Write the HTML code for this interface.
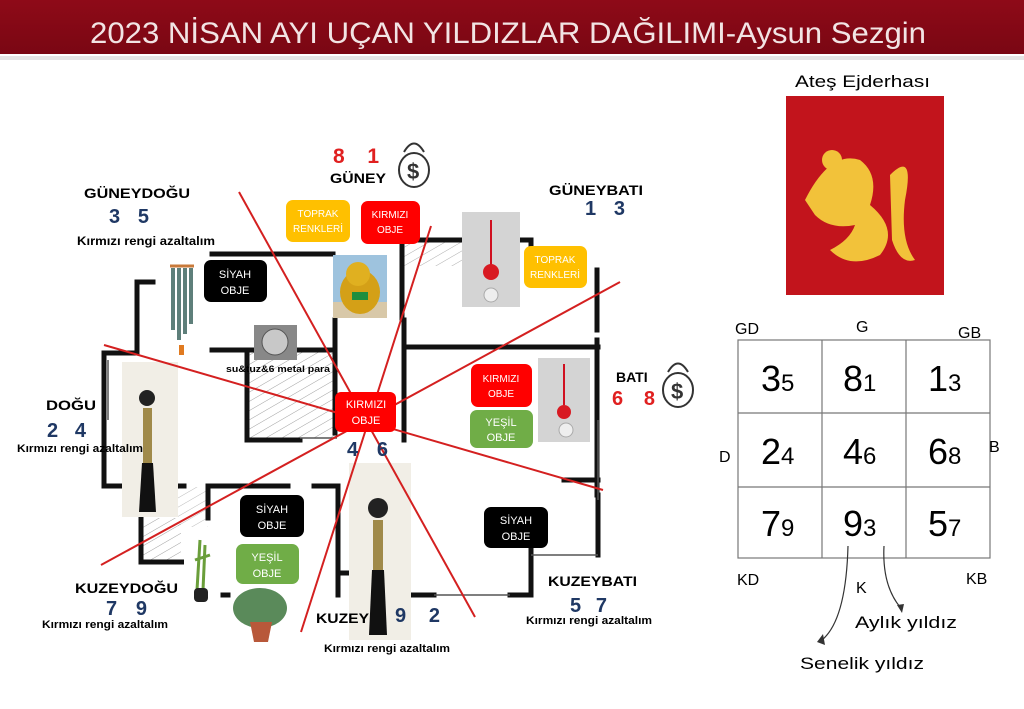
<!DOCTYPE html>
<html><head><meta charset="utf-8"><style>
html,body{margin:0;padding:0;background:#fff;}
svg{display:block;font-family:"Liberation Sans",sans-serif;}
</style></head><body>
<svg width="1024" height="709" viewBox="0 0 1024 709" xmlns="http://www.w3.org/2000/svg">
<defs>
<linearGradient id="hdr" x1="0" y1="0" x2="0" y2="1"><stop offset="0" stop-color="#8e0a18"/><stop offset="1" stop-color="#7a0713"/></linearGradient>
<pattern id="hatch" width="8" height="8" patternUnits="userSpaceOnUse" patternTransform="rotate(60)"><line x1="0" y1="0" x2="0" y2="8" stroke="#777" stroke-width="1"/></pattern>
</defs>
<rect x="0" y="0" width="1024" height="709" fill="#fff"/>
<rect x="0" y="56" width="1024" height="4" fill="#ccc" opacity="0.5"/>
<rect x="0" y="0" width="1024" height="54" fill="url(#hdr)"/>
<text x="90" y="43" font-size="30" fill="#f2e4e4" textLength="836" lengthAdjust="spacingAndGlyphs">2023 NİSAN AYI UÇAN YILDIZLAR DAĞILIMI-Aysun  Sezgin</text>

<rect x="245" y="352" width="92" height="86" fill="url(#hatch)" opacity="0.7"/>
<rect x="404" y="240" width="60" height="26" fill="url(#hatch)" opacity="0.6"/>
<rect x="143" y="518" width="38" height="44" fill="url(#hatch)" opacity="0.7"/>
<rect x="178" y="487" width="30" height="40" fill="url(#hatch)" opacity="0.5"/>

<g stroke="#111" stroke-width="5" fill="none" stroke-linecap="square">
<path d="M212 254 H333"/>
<path d="M402 240 H465 M520 240 H531 V252"/>
<path d="M402 240 V318"/>
<path d="M153 282 H137 V353 H104 V486 H121"/>
<path d="M212 350 H333"/>
<path d="M335 320 V433"/>
<path d="M404 320 V440"/>
<path d="M406 347 H598"/>
<path d="M597 270 V330 M597 340 V495 M564 480 H598"/>
<path d="M247 350 V440 H300"/>
<path d="M178 486 H184 M208 518 V486 H288 M314 486 H338 V595 M338 573 H347"/>
<path d="M141 518 V562 H182"/>
<path d="M223 595 H228 M410 595 H434"/>
<path d="M510 595 H531 V548 M598 495 V555"/>
</g>
<g stroke="#555" stroke-width="1.5" fill="none">
<path d="M434 595 H510 M531 555 H598 M108 420 V360 M598 420 V500 M300 438 H337"/>
</g>

<rect x="462" y="212" width="58" height="95" fill="#d4d4d4"/>
<line x1="491" y1="220" x2="491" y2="265" stroke="#d01020" stroke-width="2"/>
<circle cx="491" cy="272" r="8" fill="#d81a22"/><circle cx="491" cy="295" r="7" fill="#eee" stroke="#aaa"/>
<rect x="538" y="358" width="52" height="84" fill="#d4d4d4"/>
<line x1="564" y1="364" x2="564" y2="405" stroke="#d01020" stroke-width="2"/>
<circle cx="564" cy="412" r="7" fill="#d81a22"/><circle cx="566" cy="430" r="7" fill="#eee" stroke="#aaa"/>
<rect x="333" y="255" width="54" height="63" fill="#9ec3de"/>
<rect x="333" y="302" width="54" height="16" fill="#d8c8a8"/>
<ellipse cx="360" cy="292" rx="20" ry="22" fill="#d4a017"/><circle cx="358" cy="274" r="12" fill="#e0b020"/><rect x="352" y="292" width="16" height="8" fill="#1e8e3e"/>
<rect x="167" y="248" width="30" height="105" fill="#fff"/>
<line x1="170" y1="266" x2="194" y2="266" stroke="#c97a3a" stroke-width="3"/>
<g fill="#5e7f7a"><rect x="171" y="268" width="4" height="62"/><rect x="177" y="268" width="4" height="72"/><rect x="183" y="268" width="4" height="66"/><rect x="189" y="268" width="4" height="56"/></g>
<rect x="179" y="345" width="5" height="10" fill="#e07a20"/>
<rect x="254" y="325" width="43" height="35" fill="#888"/><circle cx="275" cy="342" r="13" fill="#c8c8c8" stroke="#555"/>
<rect x="122" y="362" width="56" height="155" fill="#f1eee6"/>
<circle cx="147" cy="398" r="8" fill="#222"/><rect x="143" y="408" width="9" height="55" fill="#a08a4a"/><path d="M142 463 L153 463 L156 512 L139 512 Z" fill="#111"/>
<rect x="349" y="463" width="62" height="177" fill="#f1eee6"/>
<circle cx="378" cy="508" r="10" fill="#222"/><rect x="373" y="520" width="10" height="50" fill="#a08a4a"/><path d="M372 570 L384 570 L387 635 L369 635 Z" fill="#111"/>
<rect x="184" y="530" width="35" height="73" fill="#fff"/>
<path d="M200 540 L197 590 M205 545 L203 590 M195 560 L210 555" stroke="#6a9e3a" stroke-width="3"/><rect x="194" y="588" width="14" height="14" rx="4" fill="#222"/>
<ellipse cx="260" cy="608" rx="27" ry="20" fill="#5a8a5a"/><path d="M250 622 L272 622 L268 642 L254 642 Z" fill="#b8583a"/>

<g stroke="#333" fill="#fff" stroke-width="2">
<ellipse cx="414" cy="170" rx="15" ry="17"/><path d="M404 152 Q414 135 424 152" />
<ellipse cx="678" cy="390" rx="15" ry="17"/><path d="M668 372 Q678 355 688 372"/>
</g>
<text x="407" y="179" font-size="22" font-weight="bold" fill="#333">$</text>
<text x="671" y="399" font-size="22" font-weight="bold" fill="#333">$</text>

<g stroke="#d42020" stroke-width="2">
<line x1="239" y1="192" x2="475" y2="617"/>
<line x1="431" y1="226" x2="301" y2="632"/>
<line x1="620" y1="282" x2="101" y2="565"/>
<line x1="104" y1="345" x2="603" y2="490"/>
</g>

<g font-size="10" text-anchor="middle" fill="#fff">
<rect x="286" y="200" width="64" height="42" rx="7" fill="#ffc000"/><text x="318" y="217">TOPRAK</text><text x="318" y="232">RENKLERİ</text>
<rect x="361" y="201" width="59" height="43" rx="7" fill="#f00"/><text x="390" y="218">KIRMIZI</text><text x="390" y="233">OBJE</text>
<rect x="524" y="246" width="63" height="42" rx="7" fill="#ffc000"/><text x="555" y="263">TOPRAK</text><text x="555" y="278">RENKLERİ</text>
<rect x="204" y="260" width="63" height="42" rx="7" fill="#000"/><text x="235" y="278" font-size="11">SİYAH</text><text x="235" y="294" font-size="11">OBJE</text>
<rect x="335" y="392" width="61" height="40" rx="6" fill="#f00"/><text x="366" y="408" font-size="11">KIRMIZI</text><text x="366" y="424" font-size="11">OBJE</text>
<rect x="471" y="364" width="61" height="43" rx="7" fill="#f00"/><text x="501" y="382">KIRMIZI</text><text x="501" y="397">OBJE</text>
<rect x="470" y="410" width="63" height="38" rx="7" fill="#70ad47"/><text x="501" y="426" font-size="11">YEŞİL</text><text x="501" y="441" font-size="11">OBJE</text>
<rect x="240" y="495" width="64" height="42" rx="7" fill="#000"/><text x="272" y="513" font-size="11">SİYAH</text><text x="272" y="529" font-size="11">OBJE</text>
<rect x="236" y="544" width="63" height="40" rx="7" fill="#70ad47"/><text x="267" y="561" font-size="11">YEŞİL</text><text x="267" y="577" font-size="11">OBJE</text>
<rect x="484" y="507" width="64" height="41" rx="7" fill="#000"/><text x="516" y="524" font-size="11">SİYAH</text><text x="516" y="540" font-size="11">OBJE</text>
</g>

<g font-weight="bold" fill="#000">
<text x="84" y="198" font-size="14" textLength="106" lengthAdjust="spacingAndGlyphs">GÜNEYDOĞU</text>
<text x="109" y="223" font-size="20" fill="#1f3864" textLength="40">3 5</text>
<text x="77" y="245" font-size="11.5" textLength="138" lengthAdjust="spacingAndGlyphs">Kırmızı rengi azaltalım</text>
<text x="333" y="163" font-size="21" fill="#e02020" textLength="46">8 1</text>
<text x="330" y="183" font-size="14" textLength="56" lengthAdjust="spacingAndGlyphs">GÜNEY</text>
<text x="549" y="195" font-size="14" textLength="94" lengthAdjust="spacingAndGlyphs">GÜNEYBATI</text>
<text x="585" y="215" font-size="20" fill="#1f3864" textLength="40">1 3</text>
<text x="226" y="372" font-size="9" textLength="104" lengthAdjust="spacingAndGlyphs">su&amp;tuz&amp;6 metal para</text>
<text x="46" y="410" font-size="14" textLength="50" lengthAdjust="spacingAndGlyphs">DOĞU</text>
<text x="47" y="437" font-size="20" fill="#1f3864" textLength="39">2 4</text>
<text x="17" y="452" font-size="11" textLength="126" lengthAdjust="spacingAndGlyphs">Kırmızı rengi azaltalım</text>
<text x="616" y="382" font-size="14">BATI</text>
<text x="612" y="405" font-size="20" fill="#e02020" textLength="43">6 8</text>
<text x="347" y="456" font-size="20" fill="#1f3864" textLength="41">4 6</text>
<text x="75" y="593" font-size="14" textLength="103" lengthAdjust="spacingAndGlyphs">KUZEYDOĞU</text>
<text x="106" y="615" font-size="20" fill="#1f3864" textLength="41">7 9</text>
<text x="42" y="628" font-size="11" textLength="126" lengthAdjust="spacingAndGlyphs">Kırmızı rengi azaltalım</text>
<text x="316" y="623" font-size="14" textLength="53" lengthAdjust="spacingAndGlyphs">KUZEY</text>
<text x="395" y="622" font-size="20" fill="#1f3864" textLength="45">9 2</text>
<text x="324" y="652" font-size="11" textLength="126" lengthAdjust="spacingAndGlyphs">Kırmızı rengi azaltalım</text>
<text x="548" y="586" font-size="14" textLength="89" lengthAdjust="spacingAndGlyphs">KUZEYBATI</text>
<text x="570" y="612" font-size="20" fill="#1f3864" textLength="37">5 7</text>
<text x="526" y="624" font-size="11" textLength="126" lengthAdjust="spacingAndGlyphs">Kırmızı rengi azaltalım</text>
</g>

<text x="795" y="87" font-size="17" textLength="135" lengthAdjust="spacingAndGlyphs">Ateş Ejderhası</text>
<rect x="786" y="96" width="158" height="199" fill="#c2141c"/>
<g fill="#f2c23a">
<path d="M805 200 Q830 150 860 160 Q880 175 870 205 Q900 230 880 255 Q850 270 830 250 Q850 240 855 225 Q830 230 815 215 Z"/>
<path d="M890 175 Q915 150 905 200 Q900 240 915 260 Q900 265 892 240 Z"/>
<circle cx="832" cy="160" r="10"/>
</g>

<g stroke="#777" stroke-width="1.2" fill="none">
<rect x="738" y="340" width="252" height="218"/>
<line x1="822" y1="340" x2="822" y2="558"/><line x1="906" y1="340" x2="906" y2="558"/>
<line x1="738" y1="413" x2="990" y2="413"/><line x1="738" y1="487" x2="990" y2="487"/>
</g>
<g font-size="16" fill="#000">
<text x="735" y="334">GD</text><text x="856" y="332">G</text><text x="958" y="338">GB</text>
<text x="719" y="462">D</text><text x="989" y="452">B</text>
<text x="737" y="585">KD</text><text x="856" y="593">K</text><text x="966" y="584">KB</text>
</g>
<g fill="#000">
<text x="761" y="391"><tspan font-size="36">3</tspan><tspan font-size="24">5</tspan></text>
<text x="843" y="391"><tspan font-size="36">8</tspan><tspan font-size="24">1</tspan></text>
<text x="928" y="391"><tspan font-size="36">1</tspan><tspan font-size="24">3</tspan></text>
<text x="761" y="464"><tspan font-size="36">2</tspan><tspan font-size="24">4</tspan></text>
<text x="843" y="464"><tspan font-size="36">4</tspan><tspan font-size="24">6</tspan></text>
<text x="928" y="464"><tspan font-size="36">6</tspan><tspan font-size="24">8</tspan></text>
<text x="761" y="536"><tspan font-size="36">7</tspan><tspan font-size="24">9</tspan></text>
<text x="843" y="536"><tspan font-size="36">9</tspan><tspan font-size="24">3</tspan></text>
<text x="928" y="536"><tspan font-size="36">5</tspan><tspan font-size="24">7</tspan></text>
</g>
<g stroke="#333" stroke-width="1.2" fill="none">
<path d="M848 546 Q846 620 822 640"/>
<path d="M884 546 Q882 585 900 607"/>
</g>
<path d="M817 642 L823 634 L825 645 Z" fill="#333"/>
<path d="M897 605 L904 604 L902 613 Z" fill="#333"/>
<text x="855" y="628" font-size="17" textLength="102" lengthAdjust="spacingAndGlyphs">Aylık yıldız</text>
<text x="800" y="669" font-size="17" textLength="124" lengthAdjust="spacingAndGlyphs">Senelik yıldız</text>
</svg>
</body></html>
